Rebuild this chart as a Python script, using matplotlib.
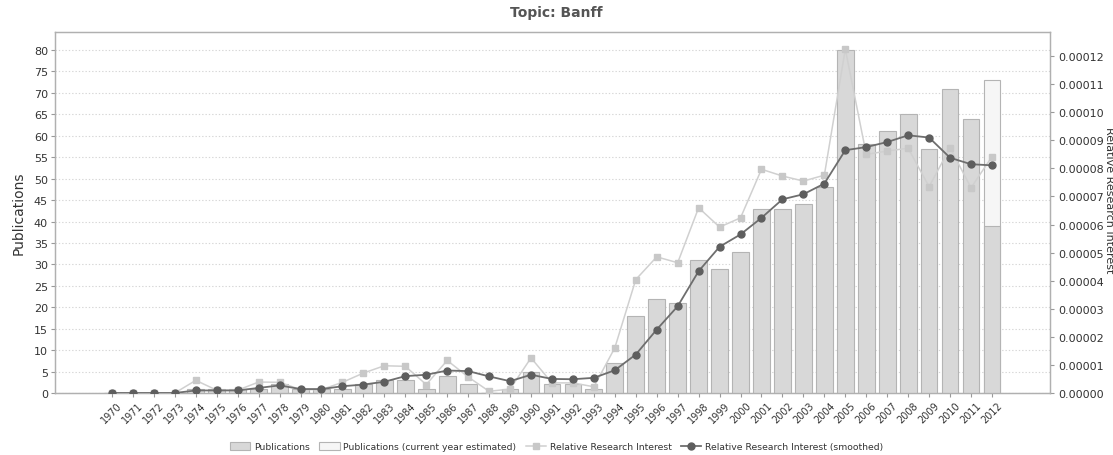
import matplotlib
matplotlib.use("Agg")
import matplotlib.pyplot as plt
from matplotlib.lines import Line2D
from matplotlib.patches import Patch

years = list(range(1970, 2013))
publications = [0, 0, 0, 0, 1, 1, 1, 1, 2, 1, 1, 1, 2, 3, 3, 1, 4, 2, 0, 1,
                5, 2, 2, 1, 7, 18, 22, 21, 31, 29, 33, 43, 43, 44, 48, 80, 58, 61,
                65, 57, 71, 64, 39]
estimated_2012 = 73
relative_interest = [0, 0, 0, 0, 4.5e-6, 1.0e-6, 1.0e-6, 3.9e-6, 3.8e-6, 1.2e-6,
                     1.2e-6, 3.8e-6, 7.1e-6, 9.7e-6, 9.5e-6, 3.0e-6, 1.16e-5, 5.7e-6,
                     0.6e-6, 1.4e-6, 1.25e-5, 3.6e-6, 3.6e-6, 2.2e-6, 1.61e-5, 4.04e-5,
                     4.85e-5, 4.64e-5, 6.60e-5, 5.91e-5, 6.24e-5, 7.97e-5, 7.73e-5,
                     7.55e-5, 7.76e-5, 1.225e-4, 8.50e-5, 8.62e-5, 8.72e-5, 7.35e-5,
                     8.74e-5, 7.31e-5, 8.42e-5]
relative_smoothed = [0, 0, 0, 0, 0.9e-6, 0.9e-6, 0.9e-6, 1.8e-6, 2.7e-6, 1.4e-6,
                     1.4e-6, 2.4e-6, 3.0e-6, 4.0e-6, 6.0e-6, 6.5e-6, 8.0e-6, 7.8e-6,
                     5.9e-6, 4.2e-6, 6.5e-6, 5.0e-6, 4.9e-6, 5.4e-6, 8.1e-6, 1.37e-5,
                     2.26e-5, 3.09e-5, 4.34e-5, 5.21e-5, 5.65e-5, 6.24e-5, 6.90e-5,
                     7.08e-5, 7.46e-5, 8.65e-5, 8.76e-5, 8.94e-5, 9.18e-5, 9.10e-5,
                     8.38e-5, 8.15e-5, 8.11e-5]

left_ticks = list(range(0, 85, 5))
right_ticks = [i * 1e-5 for i in range(13)]

fig = plt.figure(figsize=(11.13, 4.56), dpi=100)
ax = fig.add_axes([0.0494, 0.136, 0.894, 0.7916])
x = list(range(len(years)))

bar_fill = "#d8d8d8"
bar_edge = "#b4b4b4"
# estimated bar for the current year
est = [0] * (len(years) - 1) + [estimated_2012]
ax.bar(x, est, width=0.8, color="#f6f6f6", edgecolor=bar_edge, linewidth=0.8, zorder=2)
ax.bar(x, publications, width=0.8, color=bar_fill, edgecolor=bar_edge, linewidth=0.8, zorder=3)

ax.set_xlim(-2.72, len(years) - 1 + 2.77)
ax.set_ylim(0, 84.2)
ax.set_yticks(left_ticks)
ax.set_yticklabels([str(t) for t in left_ticks], fontsize=8, color="#333333")
ax.set_xticks(x)
ax.set_xticklabels([str(y) for y in years], rotation=45, ha="center", fontsize=7, color="#333333")
ax.tick_params(axis="both", length=3, color="#999999", pad=2)
ax.grid(axis="y", color="#d6d6d6", linestyle=(0, (1.2, 1.8)), linewidth=0.8, zorder=0)
ax.set_axisbelow(True)
ax.set_ylabel("Publications", fontsize=10, color="#333333", labelpad=6)
for s in ax.spines.values():
    s.set_color("#b0b0b0")
    s.set_linewidth(0.9)

ax2 = ax.twinx()
ax2.plot(x, relative_interest, color="#d0d0d0", linewidth=1.1, marker="s", markersize=5,
         markerfacecolor="#c8c8c8", markeredgecolor="#c8c8c8", zorder=3)
ax2.plot(x, relative_smoothed, color="#6e6e6e", linewidth=1.3, marker="o", markersize=5,
         markerfacecolor="#5e5e5e", markeredgecolor="#5e5e5e", zorder=4)
ax2.set_ylim(0, 0.0001286)
ax2.set_yticks(right_ticks)
ax2.set_yticklabels(["%.5f" % t for t in right_ticks], fontsize=8, color="#333333")
ax2.tick_params(axis="y", length=3, color="#999999", pad=3)
for s in ax2.spines.values():
    s.set_color("#b0b0b0")
    s.set_linewidth(0.9)
fig.text(0.9965, 0.56, "Relative Research Interest", rotation=-90, fontsize=8,
         color="#333333", ha="center", va="center")

fig.text(0.5, 0.972, "Topic: Banff", fontsize=10, fontweight="bold", color="#555555",
         ha="center", va="center")

handles = [
    Patch(facecolor=bar_fill, edgecolor=bar_edge, linewidth=0.8),
    Patch(facecolor="#f6f6f6", edgecolor=bar_edge, linewidth=0.8),
    Line2D([0], [0], color="#d0d0d0", linewidth=1.1, marker="s", markersize=5,
           markerfacecolor="#c8c8c8", markeredgecolor="#c8c8c8"),
    Line2D([0], [0], color="#6e6e6e", linewidth=1.3, marker="o", markersize=5,
           markerfacecolor="#5e5e5e", markeredgecolor="#5e5e5e"),
]
labels = ["Publications", "Publications (current year estimated)",
          "Relative Research Interest", "Relative Research Interest (smoothed)"]
fig.legend(handles, labels, loc="center", bbox_to_anchor=(0.5, 0.018), ncol=4,
           frameon=False, fontsize=6.7, handlelength=2.2, handleheight=1.0,
           columnspacing=1.0, handletextpad=0.4, labelcolor="#333333")

fig.savefig("out.png", dpi=100, facecolor="white")
